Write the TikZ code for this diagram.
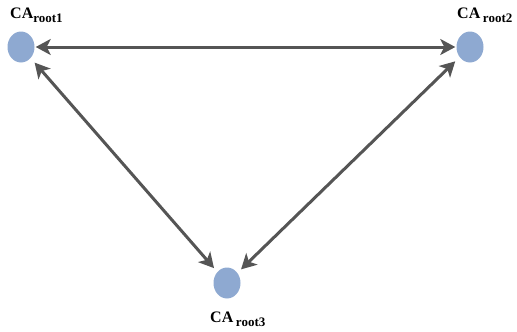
\documentclass[tikz,border=0pt]{standalone}
\usepackage{fontspec}
\setmainfont{Liberation Serif}
\usepackage{tikz}
\usetikzlibrary{arrows.meta}
\definecolor{rootblue}{HTML}{8EA9D1}
\definecolor{arrowgray}{HTML}{555555}
\tikzset{
rootnode/.style={
  ellipse,
  fill=rootblue,
  inner sep=0pt,
  minimum width=27pt,
  minimum height=31pt
},
rootlabel/.style={
  anchor=base west,
  inner sep=0pt,
  font=\bfseries\fontsize{16}{16}\selectfont
},
link/.style={
  draw=arrowgray,
  line width=3pt,
  {Stealth[length=15pt,width=16pt,inset=4pt]}-{Stealth[length=15pt,width=16pt,inset=4pt]}
},
}
\usetikzlibrary{shapes.geometric}
\newcommand{\caroot}[1]{CA\raisebox{-4pt}{\fontsize{13}{13}\selectfont root#1}}
\newcommand{\caspace}[1]{CA\,\raisebox{-4pt}{\fontsize{13}{13}\selectfont root#1}}

\begin{document}
\begin{tikzpicture}[x=1pt,y=-1pt]
\useasboundingbox (0,0) rectangle (517,332);
% the roots
\node[rootnode] (r1) at (21,47) {};
\node[rootnode] (r2) at (470,47) {};
\node[rootnode] (r3) at (227,283) {};
% the labels
\node[rootlabel] (l1) at (10,19) {\caroot{1}};
\node[rootlabel] (l2) at (457,19) {\caspace{2}};
\node[rootlabel] (l3) at (210,322) {\caspace{3}};
% the arrows
\draw[link,shorten >=1pt,shorten <=1pt] (r1) -- (r2);
\draw[link,shorten >=5pt,shorten <=6pt] (r1) -- (r3);
\draw[link,shorten >=5pt,shorten <=6pt] (r2) -- (r3);
\end{tikzpicture}
\end{document}
